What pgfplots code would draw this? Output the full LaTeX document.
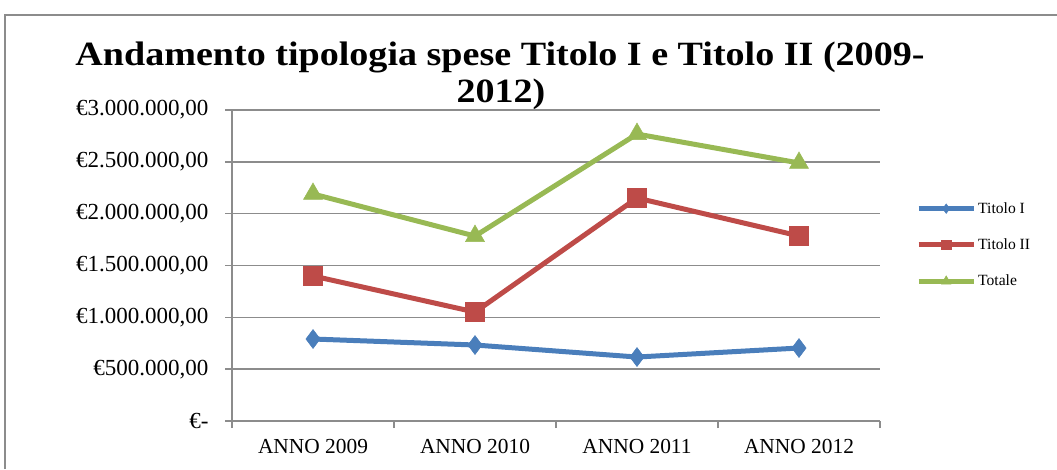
\documentclass[border=0pt]{standalone}
\usepackage{fontspec}
\setmainfont{Liberation Serif}
\usepackage{pgfplots}
\pgfplotsset{compat=1.18}
\definecolor{cblue}{HTML}{4A7EBB}
\definecolor{cred}{HTML}{BE4B48}
\definecolor{cgreen}{HTML}{98B954}
\definecolor{cgrid}{HTML}{8C8C8C}
\begin{document}
\begin{tikzpicture}[x=1pt,y=1pt]
\useasboundingbox (0,0) rectangle (1057,469);
\draw[cgrid,line width=1.5pt] (5,0) -- (5,454) -- (1057,454);
\node[font=\fontsize{34}{40}\selectfont\bfseries,anchor=base] at (500,403) {\scalebox{1.12}[1]{Andamento tipologia spese Titolo I e Titolo II (2009-}};
\node[font=\fontsize{34}{40}\selectfont\bfseries,anchor=base] at (501,366) {\scalebox{1.12}[1]{2012)}};
\begin{axis}[
  at={(232pt,48pt)}, anchor=south west,
  scale only axis, width=648pt, height=311pt,
  xmin=-0.5, xmax=3.5, ymin=0, ymax=3000000,
  scaled ticks=false,
  axis lines*=left,
  axis line style={cgrid,line width=1.5pt},
  xtick={0,1,2,3},
  xticklabels={ANNO 2009,ANNO 2010,ANNO 2011,ANNO 2012},
  major x tick style={draw=none},
  minor xtick={-0.5,0.5,1.5,2.5,3.5},
  minor x tick style={cgrid,line width=1.5pt},
  minor tick length=7pt,
  ytick={0,500000,1000000,1500000,2000000,2500000,3000000},
  yticklabels={{€-\hspace{10pt}},{€500.000,00},{€1.000.000,00},{€1.500.000,00},{€2.000.000,00},{€2.500.000,00},{€3.000.000,00}},
  major y tick style={cgrid,line width=1.5pt},
  major tick length=7pt,
  tick align=outside,
  ymajorgrids,
  major grid style={cgrid,line width=1.5pt},
  xticklabel style={font=\fontsize{21.4}{25}\selectfont,yshift=-8pt},
  yticklabel style={font=\fontsize{23}{27}\selectfont,xshift=-13pt},
  legend style={at={(1,0.566)},anchor=west,xshift=33pt,draw=none,fill=none,
    font=\fontsize{15.6}{18}\selectfont,row sep=20pt,cells={anchor=west}},
  legend image code/.code={
    \draw[#1,mark=none] (0pt,0pt) -- (55pt,0pt);
    \draw[#1,only marks,every mark/.append style={scale=0.5}] plot coordinates {(27.5pt,0pt)};
  },
  every axis plot/.append style={line width=5pt},
]
\addplot[cblue,mark=diamond*,mark size=9.5pt,mark options={solid,line width=0.5pt}] coordinates {(0,791000) (1,733000) (2,617000) (3,704000)};
\addlegendentry{Titolo I}
\addplot[cred,mark=square*,mark size=9.5pt,mark options={solid,line width=0.5pt}] coordinates {(0,1399000) (1,1051000) (2,2151000) (3,1785000)};
\addlegendentry{Titolo II}
\addplot[cgreen,mark=triangle*,mark size=11pt,mark options={solid,line width=0.5pt}] coordinates {(0,2190000) (1,1784000) (2,2768000) (3,2489000)};
\addlegendentry{Totale}
\end{axis}
\end{tikzpicture}
\end{document}
